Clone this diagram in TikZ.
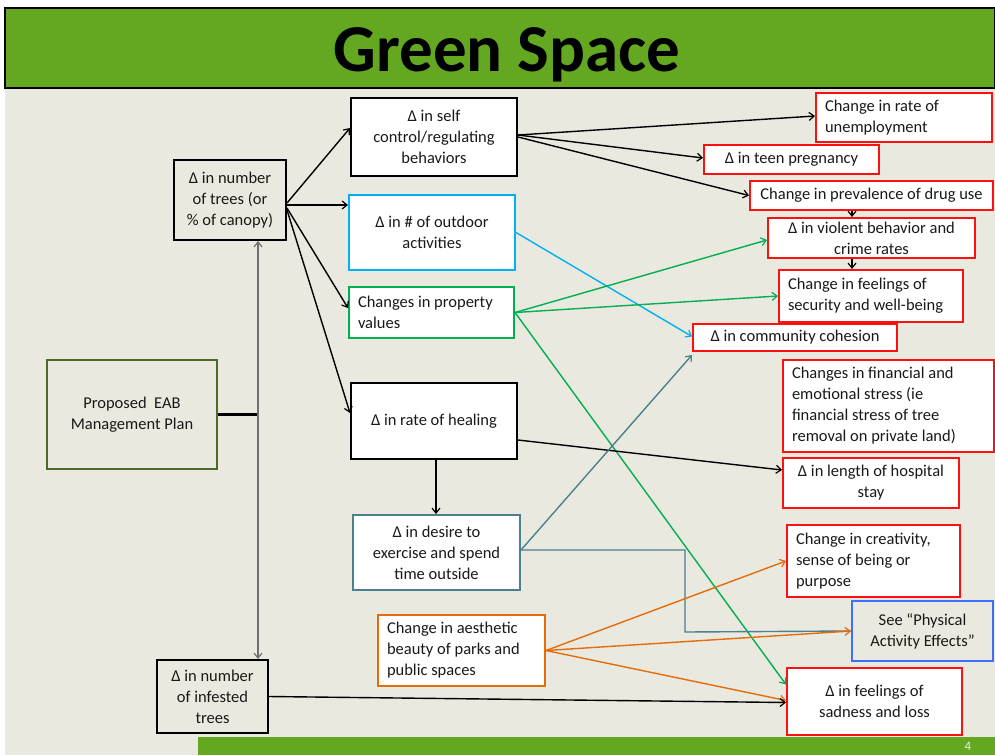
\documentclass[tikz,border=0pt]{standalone}
\usepackage{fontspec}
\setmainfont{Carlito}
\usetikzlibrary{arrows.meta,calc}
\definecolor{bg}{HTML}{EAE9DF}
\definecolor{titlegreen}{HTML}{63A820}
\definecolor{cyanb}{HTML}{00B0F0}
\definecolor{greenb}{HTML}{00B050}
\definecolor{tealb}{HTML}{4A8090}
\definecolor{orangeb}{HTML}{E46C0A}
\definecolor{blueb}{HTML}{3F6FFF}
\definecolor{eabgreen}{HTML}{4F6A28}
\definecolor{redb}{HTML}{FF1010}
\definecolor{arrgray}{HTML}{707070}
\tikzset{
  box/.style={draw, line width=2pt, fill=white, inner sep=0pt, align=center,
    font=\fontsize{16.5}{21}\selectfont, text=black!90},
  redbox/.style={box, draw=redb},
  lft/.style={align=flush left, text width=#1},
  arr/.style={line width=1.4pt, -{Straight Barb[length=5pt,width=8pt,line width=1.2pt]}},
}
\newcommand\bx[7]{\node[box,minimum width=#4pt,minimum height=#5pt,#6] (#1) at (#2,#3) {#7};}
\begin{document}
\begin{tikzpicture}[x=1pt,y=-1pt]
\useasboundingbox (0,0) rectangle (995,755);
\fill[white] (0,0) rectangle (995,755);
\fill[bg] (5,88) rectangle (995,755);
\draw[line width=2pt, fill=titlegreen] (5,8) rectangle (995,88);
\node[inner sep=0pt, font=\fontsize{67}{67}\bfseries\selectfont] (title) at (507,55) {Green Space};
\fill[titlegreen] (198,737) rectangle (995,755);
\node[text=white!85!titlegreen, font=\fontsize{13}{13}\selectfont] (pagenum) at (968,746) {4};

% left column
\bx{trees}{230}{200}{112}{80}{draw=black, fill=bg}{Δ in number\\of trees (or\\\% of canopy)}
\bx{eab}{132}{414.5}{170}{109}{draw=eabgreen, fill=bg}{Proposed \ EAB\\Management Plan}
\bx{infested}{212.5}{696.5}{111}{73}{draw=black, fill=bg}{Δ in number\\of infested\\trees}

% middle column
\bx{self}{434}{137}{166}{78}{draw=black}{Δ in self\\control/regulating\\behaviors}
\bx{outdoor}{432}{232.5}{166}{75}{draw=cyanb}{Δ in \# of outdoor\\activities}
\bx{property}{431.5}{312.5}{165}{51}{draw=greenb, lft=147pt}{Changes in property\\values}
\bx{healing}{434}{421}{166}{76}{draw=black}{Δ in rate of healing}
\bx{desire}{436.5}{552.5}{167}{75}{draw=tealb}{Δ in desire to\\exercise and spend\\time outside}
\bx{aesthetic}{461.5}{650.5}{167}{71}{draw=orangeb, lft=149pt}{Change in aesthetic\\beauty of parks and\\public spaces}

% right column
\bx{unemp}{904}{117.5}{176}{49}{redbox, lft=158pt}{Change in rate of\\unemployment}
\bx{teen}{791.5}{159.5}{175}{29}{redbox}{Δ in teen pregnancy}
\bx{drug}{871.5}{195.5}{243}{29}{redbox}{Change in prevalence of drug use}
\bx{violent}{871.5}{238}{207}{40}{redbox}{Δ in violent behavior and\\crime rates}
\bx{security}{871}{296}{184}{52}{redbox, lft=166pt}{Change in feelings of\\security and well-being}
\bx{cohesion}{795}{337.5}{204}{27}{redbox}{Δ in community cohesion}
\bx{financial}{888.5}{406}{211}{92}{redbox, lft=193pt}{Changes in financial and\\emotional stress (ie\\financial stress of tree\\removal on private land)}
\bx{hospital}{871}{483}{176}{50}{redbox}{Δ in length of hospital\\stay}
\bx{creativity}{873.5}{561}{173}{72}{redbox, lft=155pt}{Change in creativity,\\sense of being or\\purpose}
\bx{physical}{922.5}{631}{141}{60}{draw=blueb, fill=bg}{See ``Physical\\Activity Effects''}
\bx{sadness}{874.5}{701.5}{175}{67}{redbox}{Δ in feelings of\\sadness and loss}

% EAB connectors
\coordinate (junc) at (258,414.5);
\draw[line width=2.4pt] (eab.east) -- (junc);
\draw[arr, arrgray, line width=2.6pt] (junc) -- (trees.south -| junc);
\draw[arr, arrgray, line width=2.6pt] (junc) -- (infested.north -| junc);

% from trees
\draw[arr] ([yshift=-3pt]trees.east) -- ([yshift=9pt]self.west);
\draw[arr] ([yshift=-5pt]trees.east) -- ([yshift=27.5pt]outdoor.west);
\draw[arr] ([yshift=-8pt]trees.east) -- ([yshift=4.5pt]property.west);
\draw[arr] ([yshift=-10pt]trees.east) -- ([yshift=8pt]healing.west);

% from self
\draw[arr] ([yshift=2pt]self.east) -- ([yshift=1.5pt]unemp.west);
\draw[arr] ([yshift=2pt]self.east) -- ([yshift=1.5pt]teen.west);
\draw[arr] (self.east) -- (drug.west);
\draw[arr] (drug.south -| violent.north) ++(-19.5pt,0) coordinate (d1) -- (d1 |- violent.north);
\draw[arr] (violent.south) ++(-19.5pt,0) coordinate (v1) -- (v1 |- security.north);

% outdoor
\draw[arr, cyanb] (outdoor.east) -- ([yshift=1pt]cohesion.west);
% property
\draw[arr, greenb] (property.east) -- ([yshift=-2pt]violent.west);
\draw[arr, greenb] (property.east) -- (security.west);
\draw[arr, greenb] (property.east) -- ([yshift=17pt]sadness.west);
% healing
\draw[arr] ([yshift=-19pt]healing.east) -- ([yshift=13pt]hospital.west);
\draw[arr] (healing.south) ++(2pt,0) coordinate (h1) -- (h1 |- desire.north);
% desire
\draw[arr, tealb] ([yshift=2.5pt]desire.east) -- ([yshift=-3pt]cohesion.south west);
\draw[line width=1.4pt, tealb] ([yshift=2.5pt]desire.east) -- (685,550) -- (685,632) -- (physical.west);
% aesthetic
\draw[arr, orangeb] (aesthetic.east) -- (creativity.west);
\draw[arr, orangeb] (aesthetic.east) -- (physical.west);
\draw[arr, orangeb] (aesthetic.east) -- ([yshift=1pt]sadness.west);
% infested
\draw[arr] (infested.east) -- ([yshift=-1pt]sadness.west);
\end{tikzpicture}
\end{document}
